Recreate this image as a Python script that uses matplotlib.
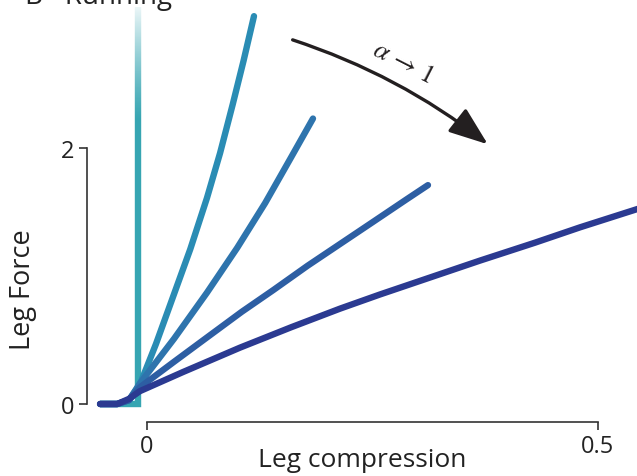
import numpy as np
import matplotlib.pyplot as plt
from matplotlib.patches import FancyArrowPatch

plt.rcParams['font.family'] = ['Open Sans', 'DejaVu Sans']
plt.rcParams['mathtext.fontset'] = 'stix'

# leg compression / leg force curves, alpha -> 1 (light teal to dark navy)
stiff_x = [-0.052, -0.0105, -0.0105]
stiff_y = [0.0, 0.0, 3.10]

c2_x = [-0.052, -0.033, -0.020, -0.008, 0.010, 0.029, 0.048, 0.0665, 0.081, 0.095, 0.107, 0.1186]
c2_y = [0.0, 0.0, 0.03, 0.15, 0.47, 0.84, 1.21, 1.61, 1.96, 2.34, 2.68, 3.03]

c3_x = [-0.052, -0.033, -0.020, -0.008, 0.030, 0.0665, 0.100, 0.131, 0.160, 0.184]
c3_y = [0.0, 0.0, 0.03, 0.16, 0.51, 0.87, 1.22, 1.57, 1.93, 2.23]

c4_x = [-0.052, -0.033, -0.020, -0.008, 0.030, 0.0665, 0.105, 0.140, 0.178, 0.214, 0.250, 0.288, 0.3115]
c4_y = [0.0, 0.0, 0.03, 0.13, 0.33, 0.52, 0.72, 0.89, 1.08, 1.25, 1.42, 1.60, 1.71]

c5_x = [-0.052, -0.033, -0.020, -0.008, 0.040, 0.103, 0.160, 0.214, 0.258, 0.325, 0.369, 0.430, 0.480, 0.560]
c5_y = [0.0, 0.0, 0.04, 0.10, 0.25, 0.44, 0.60, 0.745, 0.855, 1.015, 1.12, 1.26, 1.38, 1.56]

colors = ['#36a5b2', '#2a8cb4', '#2e74ad', '#2d5ea3', '#2b3a91']

xticks = [0, 0.5]
xticklabels = ['0', '0.5']
yticks = [0, 2]
yticklabels = ['0', '2']

fig = plt.figure(figsize=(6.37, 4.77), dpi=100)
ax = fig.add_axes([87/637, 54/477, 550/637, 423/477])

lw = 4.6
ax.plot(stiff_x, stiff_y, color=colors[0], lw=lw, solid_capstyle='butt', solid_joinstyle='miter')
# fade out top of the vertical line
grad = np.linspace(0, 1, 100)
white = np.ones((100, 1, 4))
white[:, 0, 3] = grad ** 1.2
ax.imshow(white, extent=[-0.02, 0.0, 2.2, 3.17], origin='lower', aspect='auto', zorder=5)

for xs, ys, c in zip([c2_x, c3_x, c4_x, c5_x], [c2_y, c3_y, c4_y, c5_y], colors[1:]):
    ax.plot(xs, ys, color=c, lw=lw, solid_capstyle='round', solid_joinstyle='round')

ax.set_xlim((87-147)/902, (637-147)/902)
ax.set_ylim((405-423)/128, 405/128)

for s in ['top', 'right']:
    ax.spines[s].set_visible(False)
ax.spines['left'].set_bounds(0, 2)
ax.spines['bottom'].set_bounds(0, 0.5)
for s in ['left', 'bottom']:
    ax.spines[s].set_linewidth(1.2)
    ax.spines[s].set_color('#333333')

ax.set_xticks(xticks)
ax.set_xticklabels(xticklabels)
ax.set_yticks(yticks)
ax.set_yticklabels(yticklabels)
ax.tick_params(axis='both', length=6, width=1.2, color='#333333', labelsize=17,
               labelcolor='#222222', pad=3)

fig.text(362/637, 1 - 461/477, 'Leg compression', ha='center', va='center',
         fontsize=19, color='#222222')
fig.text(23/637, 1 - 290/477, 'Leg Force', ha='center', va='center', rotation=90,
         fontsize=19.5, color='#222222')
fig.text(25/637, 1 - 4/477, 'B   Running', ha='left', va='baseline',
         fontsize=20, color='#222222')

arrow = FancyArrowPatch(((290-147)/902, (405-40)/128), ((490-147)/902, (405-147)/128),
                        connectionstyle='arc3,rad=-0.09', arrowstyle='-|>,head_length=1.2,head_width=0.45',
                        mutation_scale=20, lw=2.4, color='#231f20', zorder=6)
ax.add_patch(arrow)
ax.text((403-147)/902, (405-63)/128, r'$\alpha\,\rightarrow\,1$', rotation=-27,
        ha='center', va='center', fontsize=19, color='#231f20')

fig.savefig('out.png', dpi=100)
